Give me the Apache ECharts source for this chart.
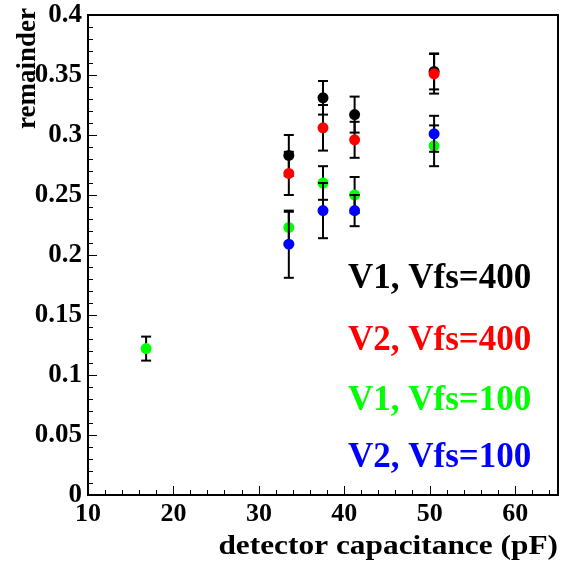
<!DOCTYPE html>
<html>
<head>
<meta charset="utf-8">
<script src="https://cdn.jsdelivr.net/npm/echarts@6/dist/echarts.min.js"></script>
<style>
  html, body { margin: 0; padding: 0; background: #fff; }
  #chart { width: 561px; height: 563px; }
</style>
</head>
<body>
<div id="chart"></div>
<script>
// 数据：探测器电容 (pF)、剩余量、误差
const capV1_400 = [33.5, 37.5, 41.2, 50.5]
const remV1_400 = [0.283, 0.331, 0.317, 0.353]
const errV1_400 = [0.017, 0.014, 0.015, 0.015]

const capV2_400 = [33.5, 37.5, 41.2, 50.5]
const remV2_400 = [0.268, 0.306, 0.296, 0.351]
const errV2_400 = [0.018, 0.019, 0.015, 0.0165]

const capV1_100 = [16.8, 33.5, 37.5, 41.2, 50.5]
const remV1_100 = [0.122, 0.223, 0.260, 0.250, 0.291]
const errV1_100 = [0.010, 0.013, 0.014, 0.015, 0.017]

const capV2_100 = [33.5, 37.5, 41.2, 50.5]
const remV2_100 = [0.209, 0.237, 0.237, 0.301]
const errV2_100 = [0.028, 0.023, 0.013, 0.015]

const seriesNames = ['V1, Vfs=400', 'V2, Vfs=400', 'V1, Vfs=100', 'V2, Vfs=100']
const seriesColors = ['#000000', '#ff0000', '#00ff00', '#0000ff']

const FONT = '"Liberation Serif", "DejaVu Serif", serif'

const toData = (xs, ys, es) => xs.map((x, i) => [x, ys[i], es[i]])

// 误差棒 + 圆点
const renderPoint = (color) => (params, api) => {
  const c = api.coord([api.value(0), api.value(1)])
  const hi = api.coord([api.value(0), api.value(1) + api.value(2)])
  const lo = api.coord([api.value(0), api.value(1) - api.value(2)])
  const bar = { stroke: '#000', lineWidth: 2 }
  return {
    type: 'group',
    children: [
      { type: 'line', shape: { x1: c[0], y1: hi[1], x2: c[0], y2: lo[1] }, style: bar },
      { type: 'line', shape: { x1: c[0] - 5, y1: hi[1], x2: c[0] + 5, y2: hi[1] }, style: bar },
      { type: 'line', shape: { x1: c[0] - 5, y1: lo[1], x2: c[0] + 5, y2: lo[1] }, style: bar },
      { type: 'circle', shape: { cx: c[0], cy: c[1], r: 5.5 }, style: { fill: color } }
    ]
  }
}

const allData = [
  toData(capV1_400, remV1_400, errV1_400),
  toData(capV2_400, remV2_400, errV2_400),
  toData(capV1_100, remV1_100, errV1_100),
  toData(capV2_100, remV2_100, errV2_100)
]

const chart = echarts.init(document.getElementById('chart'))

const legendY = [279, 341, 401, 458]

chart.setOption({
  animation: false,
  backgroundColor: '#fff',
  grid: {
    left: 88, right: 3, top: 15, bottom: 68,
    show: true, borderColor: '#000', borderWidth: 2, backgroundColor: 'transparent'
  },
  xAxis: {
    type: 'value',
    min: 10, max: 65, interval: 10,
    axisLine: { lineStyle: { color: '#000', width: 2 } },
    axisTick: { inside: true, length: 9, lineStyle: { color: '#000' } },
    minorTick: { show: true, splitNumber: 5, length: 5, lineStyle: { color: '#000' } },
    splitLine: { show: false },
    axisLabel: {
      color: '#000', fontFamily: FONT, fontWeight: 'bold', fontSize: 26, margin: 6,
      showMaxLabel: false
    }
  },
  yAxis: {
    type: 'value',
    min: 0, max: 0.4, interval: 0.05,
    axisLine: { lineStyle: { color: '#000', width: 2 } },
    axisTick: { inside: true, length: 9, lineStyle: { color: '#000' } },
    minorTick: { show: true, splitNumber: 5, length: 5, lineStyle: { color: '#000' } },
    splitLine: { show: false },
    axisLabel: { color: '#000', fontFamily: FONT, fontWeight: 'bold', fontSize: 27, margin: 6 }
  },
  series: allData.map((d, i) => ({
    name: seriesNames[i],
    type: 'custom',
    renderItem: renderPoint(seriesColors[i]),
    encode: { x: 0, y: 1 },
    data: d,
    z: 10 + i
  })),
  graphic: [
    {
      type: 'text', x: 28, y: 129, rotation: Math.PI / 2,
      style: { text: 'remainder', fill: '#000', font: 'bold 27px ' + FONT, align: 'left', verticalAlign: 'middle' }
    },
    {
      type: 'text', x: 558, y: 547, scaleX: 1.12,
      style: { text: 'detector capacitance (pF)', fill: '#000', font: 'bold 28px ' + FONT, align: 'right', verticalAlign: 'middle' }
    },
    ...seriesNames.map((name, i) => ({
      type: 'text', x: 348, y: legendY[i],
      style: { text: name, fill: seriesColors[i], font: 'bold 35px ' + FONT, align: 'left', verticalAlign: 'middle' }
    }))
  ]
})
</script>
</body>
</html>
